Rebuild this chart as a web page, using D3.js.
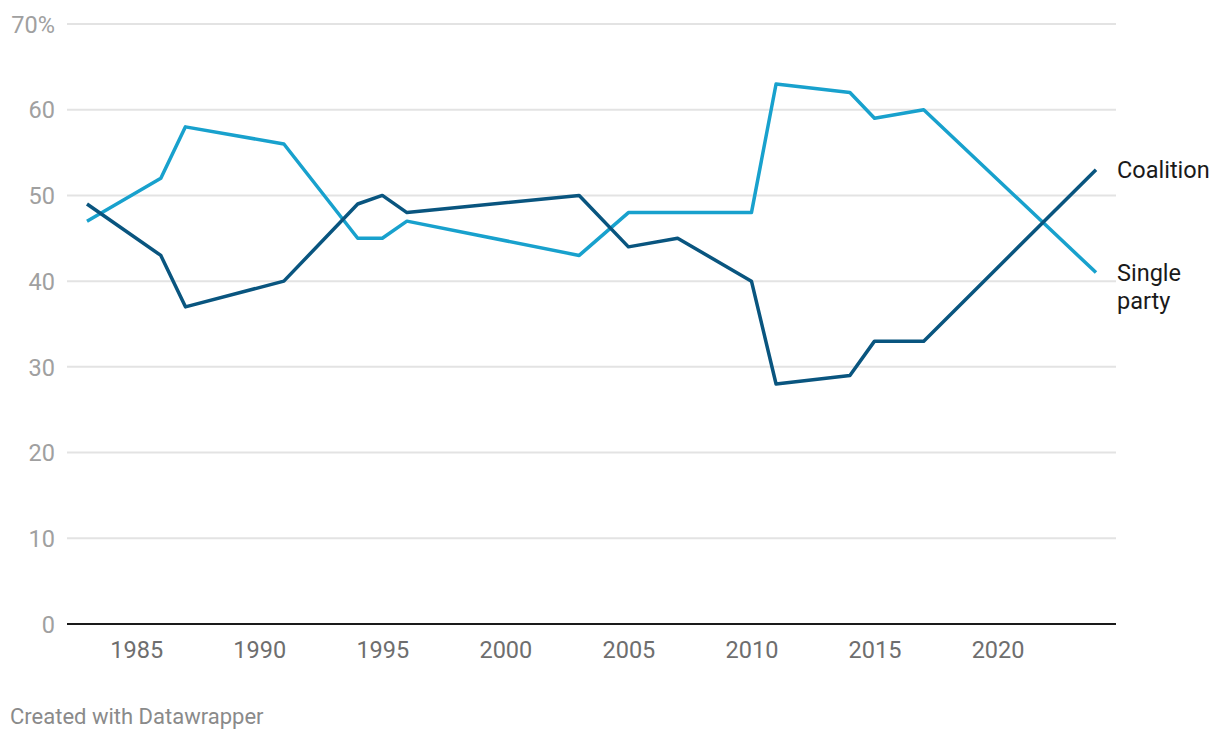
<!DOCTYPE html>
<html>
<head>
<meta charset="utf-8">
<script src="https://cdn.jsdelivr.net/npm/d3@7"></script>
<style>
  body { margin: 0; background: #fff; font-family: Roboto, sans-serif; }
  .grid line { stroke: #e3e3e3; stroke-width: 2; }
  .y-axis text { fill: #a0a0a0; font-size: 23.5px; font-family: Roboto, sans-serif; }
  .x-axis text { fill: #6e6e6e; font-size: 23.5px; font-family: Roboto, sans-serif; }
</style>
</head>
<body>
<div class="chart"></div>
<script>
const years =     [1983, 1986, 1987, 1991, 1994, 1995, 1996, 2003, 2005, 2007, 2010, 2011, 2014, 2015, 2017, 2024];
const coalition = [49,   43,   37,   40,   49,   50,   48,   50,   44,   45,   40,   28,   29,   33,   33,   53];
const single =    [47,   52,   58,   56,   45,   45,   47,   43,   48,   48,   48,   63,   62,   59,   60,   41];
const yTicks = [0, 10, 20, 30, 40, 50, 60, 70];
const xTicks = [1985, 1990, 1995, 2000, 2005, 2010, 2015, 2020];

var margin = {top: 24, right: 104, bottom: 116, left: 67};
var width = 1220 - margin.left - margin.right,
    height = 740 - margin.top - margin.bottom;

const svg = d3.select(".chart").append("svg")
    .attr("width", 1220)
    .attr("height", 740)
    .append("g")
    .attr("transform", "translate(" + margin.left + "," + margin.top + ")");

const xScale = d3.scaleLinear()
    .domain([1983, 2024])
    .range([20, 1029]);

const yScale = d3.scaleLinear()
    .domain([0, 70])
    .range([height, 0]);

// gridlines
svg.append("g")
    .attr("class", "grid")
    .selectAll("line")
    .data(yTicks.filter(d => d > 0))
    .join("line")
    .attr("x1", 0)
    .attr("x2", width)
    .attr("y1", d => yScale(d))
    .attr("y2", d => yScale(d));

const yAxis = d3.axisLeft(yScale)
    .tickValues(yTicks)
    .tickSize(0)
    .tickPadding(12)
    .tickFormat(d => d == 70 ? "70%" : d);

svg.append("g")
    .attr("class", "axis y-axis")
    .call(yAxis)
    .call(g => g.select(".domain").remove())
    .selectAll("text").attr("dy", "0.35em");

const xAxis = d3.axisBottom(xScale)
    .tickValues(xTicks)
    .tickSize(0)
    .tickPadding(17)
    .tickFormat(d3.format("d"));

svg.append("g")
    .attr("class", "axis x-axis")
    .attr("transform", `translate(0, ${height})`)
    .call(xAxis)
    .call(g => g.select(".domain").remove());

// baseline
svg.append("line")
    .attr("x1", 0)
    .attr("x2", width)
    .attr("y1", yScale(0))
    .attr("y2", yScale(0))
    .attr("stroke", "#1a1a1a")
    .attr("stroke-width", 2);

const line = d3.line()
    .x((d, i) => xScale(years[i]))
    .y(d => yScale(d));

svg.append("path")
    .datum(single)
    .attr("fill", "none")
    .attr("stroke", "#18a1cd")
    .attr("stroke-width", 3.5)
    .attr("stroke-linejoin", "round")
    .attr("d", line);

svg.append("path")
    .datum(coalition)
    .attr("fill", "none")
    .attr("stroke", "#09557f")
    .attr("stroke-width", 3.5)
    .attr("stroke-linejoin", "round")
    .attr("d", line);

const last = years.length - 1;
const lx = xScale(years[last]) + 21;
svg.append("text")
    .attr("x", lx)
    .attr("y", yScale(coalition[last]))
    .attr("dy", "0.35em")
    .attr("fill", "#1a1a1a")
    .style("font-size", "23.5px")
    .text("Coalition");

const sp = svg.append("text")
    .attr("y", yScale(single[last]))
    .attr("fill", "#1a1a1a")
    .style("font-size", "23.5px");
sp.append("tspan").attr("x", lx).attr("dy", "0.35em").text("Single");
sp.append("tspan").attr("x", lx).attr("dy", "1.2em").text("party");

d3.select("svg").append("text")
    .attr("x", 10)
    .attr("y", 724)
    .attr("fill", "#8a8a8a")
    .style("font-size", "22px")
    .style("font-family", "Roboto, sans-serif")
    .text("Created with Datawrapper");
</script>
</body>
</html>
